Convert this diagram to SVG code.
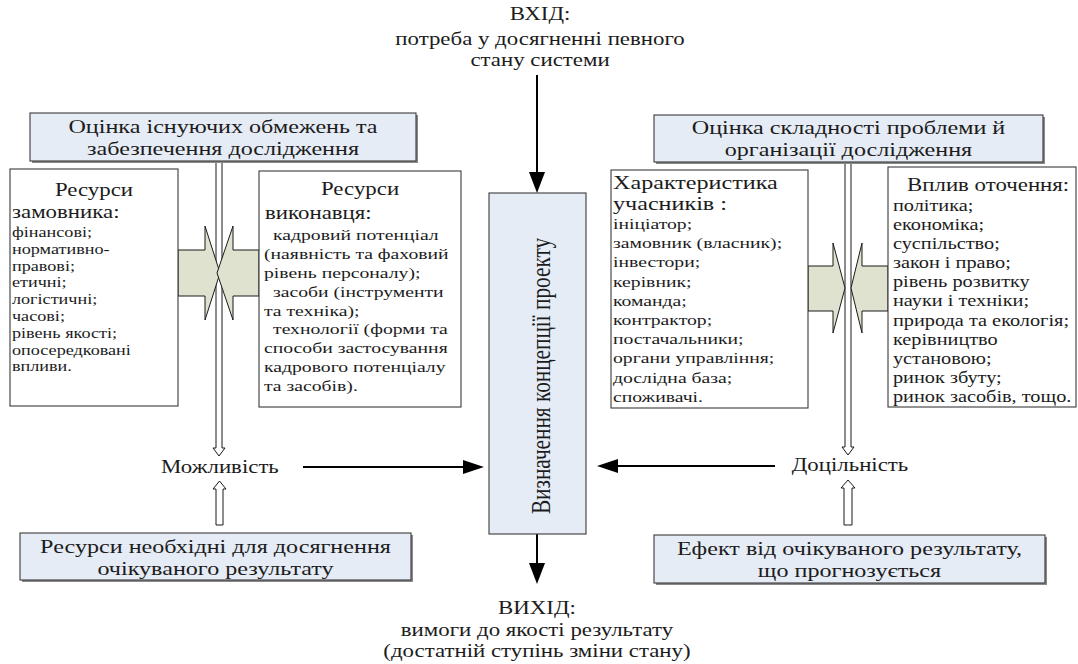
<svg xmlns="http://www.w3.org/2000/svg" width="1078" height="664" viewBox="0 0 1078 664" font-family="'Liberation Serif', 'Times New Roman', serif">
<defs>
<style>
text{font-family:'Liberation Serif','Times New Roman',serif;fill:#1c1c1c}
.bx{fill:#fff;stroke:#3a3a3a;stroke-width:1.1}
.hb{fill:#e6ecf6;stroke:#3a3a3a;stroke-width:1.1}
.sh{fill:#8a8a8a}
.ba{fill:#dfe2cf;stroke:#1a1a1a;stroke-width:1}
.ho{fill:#fff;stroke:#1a1a1a;stroke-width:1}
.ln{stroke:#000;stroke-width:2;fill:none}
.s19{font-size:19px}.s18{font-size:18px}.s16{font-size:16px}.s155{font-size:15.5px}.s14{font-size:14.3px}
</style>
</defs>
<rect width="1078" height="664" fill="#fff"/>

<g id="connectors">
<line class="ln" x1="537" y1="75" x2="537" y2="172"/>
<path d="M529,172 L545,172 L537,193 z" fill="#000"/>
<line class="ln" x1="537" y1="534" x2="537" y2="563"/>
<path d="M529,563 L545,563 L537,584 z" fill="#000"/>
<line class="ln" x1="303" y1="467" x2="463" y2="467"/>
<path d="M463,460 L463,474 L484,467 z" fill="#000"/>
<line class="ln" x1="775" y1="466" x2="618" y2="466"/>
<path d="M618,459 L618,473 L597,466 z" fill="#000"/>
<polygon class="ho" points="216,161 216,448 213,448 219,456 225,448 222,448 222,161"/>
<polygon class="ho" points="216,525 216,489 213,489 219.5,481 226,489 223,489 223,525"/>
<polygon class="ho" points="845,162 845,447 842,447 848,455 854,447 851,447 851,162"/>
<polygon class="ho" points="844,525 844,488 841,488 848,480 855,488 852,488 852,525"/>
<polygon class="ba" points="178,250 205,250 205,226 220,273 205,320 205,296 178,296"/>
<polygon class="ba" points="259,250 233,250 233,226 217,273 233,320 233,296 259,296"/>
<polygon class="ba" points="808,266 833,266 833,243 845,288 833,333 833,311 808,311"/>
<polygon class="ba" points="888,266 862,266 862,243 851,288 862,333 862,311 888,311"/>
</g>

<g id="input">
<text class="s18" transform="scale(1.27 1)" text-anchor="middle" x="425.2" y="20">ВХІД:</text>
<text class="s18" transform="scale(1.27 1)" text-anchor="middle" x="425.2" y="45">потреба у досягненні певного</text>
<text class="s18" transform="scale(1.27 1)" text-anchor="middle" x="425.2" y="66">стану системи</text>
</g>

<g id="header-left">
<rect class="sh" x="32" y="115" width="386" height="48"/>
<rect class="hb" x="30" y="113" width="386" height="48"/>
<text class="s19" transform="scale(1.27 1)" text-anchor="middle" x="175.6" y="133">Оцінка існуючих обмежень та</text>
<text class="s19" transform="scale(1.27 1)" text-anchor="middle" x="175.6" y="155">забезпечення дослідження</text>
</g>

<g id="header-right">
<rect class="sh" x="656" y="117" width="389" height="47"/>
<rect class="hb" x="654" y="115" width="389" height="47"/>
<text class="s19" transform="scale(1.27 1)" text-anchor="middle" x="668.1" y="134">Оцінка складності проблеми й</text>
<text class="s19" transform="scale(1.27 1)" text-anchor="middle" x="668.1" y="156">організації дослідження</text>
</g>

<g id="customer">
<rect class="bx" x="10" y="169" width="168" height="237"/>
<text class="s18" transform="scale(1.27 1)" text-anchor="middle" x="74" y="196">Ресурси</text>
<text class="s18" transform="scale(1.27 1)" x="9.45" y="218">замовника:</text>
<text class="s14" transform="scale(1.27 1)" x="9.45" y="237">фінансові;</text>
<text class="s14" transform="scale(1.27 1)" x="9.45" y="253.8">нормативно-</text>
<text class="s14" transform="scale(1.27 1)" x="9.45" y="270.6">правові;</text>
<text class="s14" transform="scale(1.27 1)" x="9.45" y="287.4">етичні;</text>
<text class="s14" transform="scale(1.27 1)" x="9.45" y="304.2">логістичні;</text>
<text class="s14" transform="scale(1.27 1)" x="9.45" y="321">часові;</text>
<text class="s14" transform="scale(1.27 1)" x="9.45" y="337.8">рівень якості;</text>
<text class="s14" transform="scale(1.27 1)" x="9.45" y="354.6">опосередковані</text>
<text class="s14" transform="scale(1.27 1)" x="9.45" y="371.4">впливи.</text>
</g>

<g id="executor">
<rect class="bx" x="259" y="171" width="202" height="236"/>
<text class="s18" transform="scale(1.27 1)" text-anchor="middle" x="283.5" y="195">Ресурси</text>
<text class="s18" transform="scale(1.27 1)" x="208.7" y="219">виконавця:</text>
<text class="s155" transform="scale(1.27 1)" x="215" y="240">кадровий потенціал</text>
<text class="s155" transform="scale(1.27 1)" x="207.9" y="258.9">(наявність та фаховий</text>
<text class="s155" transform="scale(1.27 1)" x="207.9" y="277.8">рівень персоналу);</text>
<text class="s155" transform="scale(1.27 1)" x="215" y="296.7">засоби (інструменти</text>
<text class="s155" transform="scale(1.27 1)" x="207.9" y="315.6">та техніка);</text>
<text class="s155" transform="scale(1.27 1)" x="215" y="334.5">технології (форми та</text>
<text class="s155" transform="scale(1.27 1)" x="207.9" y="353.4">способи застосування</text>
<text class="s155" transform="scale(1.27 1)" x="207.9" y="372.3">кадрового потенціалу</text>
<text class="s155" transform="scale(1.27 1)" x="207.9" y="391.2">та засобів).</text>
</g>

<g id="concept">
<rect class="hb" x="489" y="193" width="97" height="341"/>
<text font-size="21.3" text-anchor="middle" transform="translate(550 376) rotate(-90) scale(1 1.3)" x="0" y="0">Визначення концепції проекту</text>
</g>

<g id="participants">
<rect class="bx" x="611" y="170" width="197" height="238"/>
<text class="s19" transform="scale(1.27 1)" x="482.7" y="189">Характеристика</text>
<text class="s19" transform="scale(1.27 1)" x="482.7" y="210">учасників :</text>
<text class="s155" transform="scale(1.27 1)" x="482.7" y="229">ініціатор;</text>
<text class="s155" transform="scale(1.27 1)" x="482.7" y="248.2">замовник (власник);</text>
<text class="s155" transform="scale(1.27 1)" x="482.7" y="267.4">інвестори;</text>
<text class="s155" transform="scale(1.27 1)" x="482.7" y="286.6">керівник;</text>
<text class="s155" transform="scale(1.27 1)" x="482.7" y="305.8">команда;</text>
<text class="s155" transform="scale(1.27 1)" x="482.7" y="325">контрактор;</text>
<text class="s155" transform="scale(1.27 1)" x="482.7" y="344.2">постачальники;</text>
<text class="s155" transform="scale(1.27 1)" x="482.7" y="363.4">органи управління;</text>
<text class="s155" transform="scale(1.27 1)" x="482.7" y="382.6">дослідна база;</text>
<text class="s155" transform="scale(1.27 1)" x="482.7" y="401.8">споживачі.</text>
</g>

<g id="environment">
<rect class="bx" x="888" y="167" width="188" height="240"/>
<text class="s18" transform="scale(1.27 1)" x="714.2" y="191">Вплив оточення:</text>
<text class="s16" transform="scale(1.27 1)" x="703.1" y="211">політика;</text>
<text class="s16" transform="scale(1.27 1)" x="703.1" y="230.1">економіка;</text>
<text class="s16" transform="scale(1.27 1)" x="703.1" y="249.2">суспільство;</text>
<text class="s16" transform="scale(1.27 1)" x="703.1" y="268.3">закон і право;</text>
<text class="s16" transform="scale(1.27 1)" x="703.1" y="287.4">рівень розвитку</text>
<text class="s16" transform="scale(1.27 1)" x="703.1" y="306.5">науки і техніки;</text>
<text class="s16" transform="scale(1.27 1)" x="703.1" y="325.6">природа та екологія;</text>
<text class="s16" transform="scale(1.27 1)" x="703.1" y="344.7">керівництво</text>
<text class="s16" transform="scale(1.27 1)" x="703.1" y="363.8">установою;</text>
<text class="s16" transform="scale(1.27 1)" x="703.1" y="382.9">ринок збуту;</text>
<text class="s16" transform="scale(1.27 1)" x="703.1" y="402">ринок засобів, тощо.</text>
</g>

<g id="possibility">
<text class="s18" transform="scale(1.27 1)" text-anchor="middle" x="173.2" y="473">Можливість</text>
</g>

<g id="expediency">
<text class="s18" transform="scale(1.27 1)" text-anchor="middle" x="669.3" y="471">Доцільність</text>
</g>

<g id="resources-needed">
<rect class="sh" x="22" y="535" width="391" height="47"/>
<rect class="hb" x="20" y="533" width="391" height="47"/>
<text class="s19" transform="scale(1.27 1)" text-anchor="middle" x="169.7" y="553">Ресурси необхідні для досягнення</text>
<text class="s19" transform="scale(1.27 1)" text-anchor="middle" x="169.7" y="575">очікуваного результату</text>
</g>

<g id="effect">
<rect class="sh" x="656" y="537" width="391" height="48"/>
<rect class="hb" x="654" y="535" width="391" height="48"/>
<text class="s19" transform="scale(1.27 1)" text-anchor="middle" x="668.9" y="555">Ефект від очікуваного результату,</text>
<text class="s19" transform="scale(1.27 1)" text-anchor="middle" x="668.9" y="577">що прогнозується</text>
</g>

<g id="output">
<text class="s18" transform="scale(1.27 1)" text-anchor="middle" x="422.8" y="614">ВИХІД:</text>
<text class="s18" transform="scale(1.27 1)" text-anchor="middle" x="422.8" y="636">вимоги до якості результату</text>
<text class="s18" transform="scale(1.27 1)" text-anchor="middle" x="422.8" y="657">(достатній ступінь зміни стану)</text>
</g>
</svg>
